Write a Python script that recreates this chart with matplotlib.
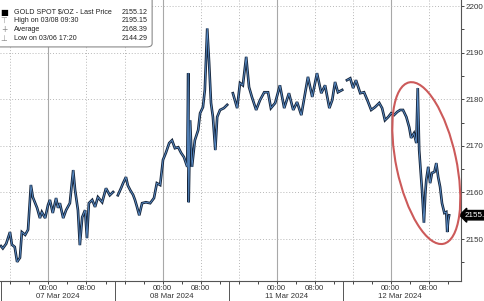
import matplotlib
matplotlib.use("Agg")
import matplotlib.pyplot as plt
from matplotlib.patches import Ellipse, FancyBboxPatch
from matplotlib.transforms import ScaledTranslation, blended_transform_factory

plt.rcParams["font.family"] = ["Liberation Sans", "DejaVu Sans"]

# hours since the first session opened (03/06 14:00), each trading day = 24h slot
s1_hours = [0.0, 0.4, 1.1, 1.9, 2.3, 2.9, 3.4, 4.0, 4.4, 5.1, 5.7, 6.1, 6.3, 6.7,
            7.6, 8.2, 8.6, 9.3, 9.9, 10.3, 10.9, 11.6, 12.0, 12.4, 13.1, 13.7,
            14.5, 15.2, 15.6, 16.2, 16.6, 17.1, 17.7, 18.1, 18.5, 19.2, 19.8,
            20.4, 21.3, 22.1, 22.9, 23.6]
s1_prices = [2148.5, 2148.0, 2149.0, 2151.5, 2148.8, 2148.3, 2145.1, 2146.0,
             2151.5, 2150.9, 2152.0, 2158.4, 2161.6, 2159.0, 2156.7, 2154.5,
             2155.8, 2154.5, 2157.3, 2158.4, 2155.6, 2158.8, 2156.7, 2157.7,
             2154.5, 2156.2, 2157.7, 2164.8, 2160.5, 2156.2, 2148.7, 2154.7,
             2156.2, 2150.2, 2157.7, 2158.4, 2156.9, 2159.0, 2157.9, 2160.9,
             2159.4, 2160.1]

s2_hours = [24.6, 25.3, 25.7, 26.3, 26.7, 27.2, 27.8, 28.2, 28.6, 29.1, 29.7,
            30.5, 31.4, 32.2, 32.8, 33.5, 34.1, 34.7, 35.4, 36.0, 36.6, 37.3,
            37.9, 38.5, 39.2, 39.4, 39.5, 39.8, 40.2, 40.8, 41.5, 41.9, 42.5,
            42.9, 43.4, 43.8, 44.2, 44.6, 45.1, 45.5, 46.1, 46.9, 47.6]
s2_prices = [2159.4, 2161.0, 2162.0, 2163.3, 2161.5, 2160.5, 2159.5, 2158.4,
             2157.0, 2155.1, 2157.7, 2157.9, 2157.7, 2158.8, 2162.0, 2161.6,
             2167.0, 2168.5, 2170.6, 2171.2, 2169.5, 2169.7, 2168.5, 2167.6,
             2165.5, 2185.6, 2157.9, 2175.5, 2165.5, 2171.2, 2173.4, 2177.0,
             2178.3, 2182.0, 2195.2, 2187.8, 2179.2, 2176.2, 2169.1, 2176.2,
             2177.7, 2178.1, 2178.8]

s3_hours = [48.8, 49.7, 50.3, 50.9, 51.6, 52.2, 52.8, 53.7, 54.5, 55.4, 56.2,
            56.8, 57.7, 58.7, 59.6, 60.6, 61.5, 62.3, 63.2, 64.0, 64.6, 65.5,
            66.5, 67.4, 68.2, 69.1, 69.7, 70.3, 70.9, 71.8]
s3_prices = [2181.3, 2178.1, 2183.5, 2183.0, 2189.1, 2182.6, 2180.5, 2177.7,
             2179.8, 2181.5, 2181.5, 2178.1, 2179.2, 2183.0, 2178.1, 2181.3,
             2177.7, 2179.4, 2176.6, 2181.3, 2184.8, 2180.5, 2185.6, 2181.3,
             2183.0, 2178.1, 2179.8, 2183.7, 2181.5, 2182.0]

s4_hours = [72.8, 73.5, 74.1, 74.7, 75.6, 76.4, 77.1, 77.9, 78.7, 79.6, 80.2,
            80.8, 81.5, 82.1, 82.7, 83.4, 84.0, 84.6, 85.3, 85.9, 86.3, 86.9,
            87.4, 87.7, 88.0, 88.4, 88.6, 89.0, 89.3, 89.5, 89.9, 90.3, 90.7,
            91.2, 91.6, 92.0, 92.4, 92.8, 93.3, 93.7, 93.9, 94.1, 94.3]
s4_prices = [2184.1, 2184.5, 2182.4, 2184.1, 2181.3, 2181.5, 2179.8, 2177.7,
             2178.3, 2179.2, 2178.1, 2175.5, 2176.2, 2177.0, 2176.6, 2177.3,
             2177.7, 2177.7, 2176.2, 2174.0, 2171.7, 2172.7, 2170.6, 2182.4,
             2169.1, 2163.3, 2160.5, 2153.5, 2160.0, 2162.7, 2165.5, 2162.0,
             2164.2, 2164.4, 2166.3, 2163.3, 2161.2, 2157.7, 2155.6, 2155.8,
             2151.5, 2154.0, 2155.1]

sessions = [(s1_hours, s1_prices), (s2_hours, s2_prices),
            (s3_hours, s3_prices), (s4_hours, s4_prices)]
day_labels = ["07 Mar 2024", "08 Mar 2024", "11 Mar 2024", "12 Mar 2024"]
last_price = 2155.12
legend_rows = [
    ("\u25a0", "GOLD SPOT $/OZ - Last Price", "2155.12"),
    ("\u22a4", "High on 03/08 09:30", "2195.15"),
    ("+", "Average", "2168.39"),
    ("\u22a5", "Low on 03/06 17:20", "2144.29"),
]

fig = plt.figure(figsize=(4.85, 3.01), dpi=100)
ax = fig.add_axes([0, 20 / 301, 461 / 485, 281 / 301])

for hours, prices in sessions:
    ax.plot(hours, prices, color="#15243a", lw=1.9, solid_joinstyle="miter")
    ax.plot(hours, prices, color="#5b90cc", lw=0.6)

ax.set_xlim(-0.2, 96.8)
ax.set_ylim(2141.0, 2201.3)

# grid: solid at midnight, dotted at 08:00 / 16:00, dotted price levels
for day in range(4):
    base = 24 * day
    ax.axvline(base + 10, color="#a8a8a8", lw=0.8, zorder=0)
    for off in (2, 18):
        ax.axvline(base + off, color="#b8b8b8", lw=0.7, ls=(0, (1, 2)), zorder=0)
for level in range(2150, 2201, 10):
    ax.axhline(level, color="#b8b8b8", lw=0.7, ls=(0, (1, 2)), zorder=0)

# x ticks
major = [24 * d + h for d in range(4) for h in (10, 18)]
minor = [24 * d + h for d in range(4) for h in (2, 6, 14, 22)]
ax.set_xticks(major, ["00:00", "08:00"] * 4)
ax.set_xticks(minor, minor=True)
ax.tick_params(axis="x", which="both", direction="out", length=2, width=0.7,
               colors="#444444", labelsize=5.6, pad=1, labelcolor="#333333")

trans = blended_transform_factory(ax.transData, ax.transAxes)
for day, label in enumerate(day_labels):
    ax.plot([24 * day, 24 * day], [0, -20 / 281], transform=trans,
            color="#555555", lw=0.7, clip_on=False)
    ax.text(24 * day + 12, -0.056, label, transform=trans, ha="center",
            va="center", fontsize=5.6, color="#333333")

# y axis on the right
ax.yaxis.tick_right()
ax.set_yticks(range(2150, 2201, 10))
ax.set_yticks(range(2145, 2200, 10), minor=True)
ax.tick_params(axis="y", which="both", direction="out", length=2, width=0.7,
               colors="#444444", labelsize=5.8, pad=1.5, labelcolor="#333333")

for side in ("left", "top"):
    ax.spines[side].set_visible(False)
for side in ("right", "bottom"):
    ax.spines[side].set_color("#555555")
    ax.spines[side].set_linewidth(0.8)

# last price tag
ytrans = blended_transform_factory(ax.transAxes, ax.transData)
ax.text(1.008, last_price, "2155.12", transform=ytrans, ha="left", va="center",
        fontsize=5.8, color="white", clip_on=False,
        bbox=dict(boxstyle="larrow,pad=0.15", fc="black", ec="black"))

# legend box
box = FancyBboxPatch((-0.02, 0.833), 0.35, 0.2, transform=ax.transAxes,
                     boxstyle="round,pad=0,rounding_size=0.012",
                     fc="white", ec="#8a8a8a", lw=0.8, zorder=5, clip_on=False)
ax.add_patch(box)
for i, (mark, label, value) in enumerate(legend_rows):
    y = 0.957 - i * 0.031
    ax.text(0.009, y, mark, transform=ax.transAxes, ha="center", va="center",
            fontsize=6 if i == 0 else 5.5, color="black" if i == 0 else "#888888",
            family=["DejaVu Sans"], zorder=6)
    ax.text(0.030, y, label, transform=ax.transAxes, ha="left", va="center",
            fontsize=5.1, color="#222222", zorder=6)
    ax.text(0.321, y, value, transform=ax.transAxes, ha="right", va="center",
            fontsize=5.1, color="#222222", zorder=6)

# red ellipse around the sell-off
ell = Ellipse((0, 0), 0.60, 1.65, angle=12,
              transform=fig.dpi_scale_trans + ScaledTranslation(89.5, 2166.3, ax.transData),
              fill=False, ec="#cc5a5a", lw=1.5, zorder=4, clip_on=False)
ax.add_patch(ell)

fig.savefig("out.png", dpi=100)
